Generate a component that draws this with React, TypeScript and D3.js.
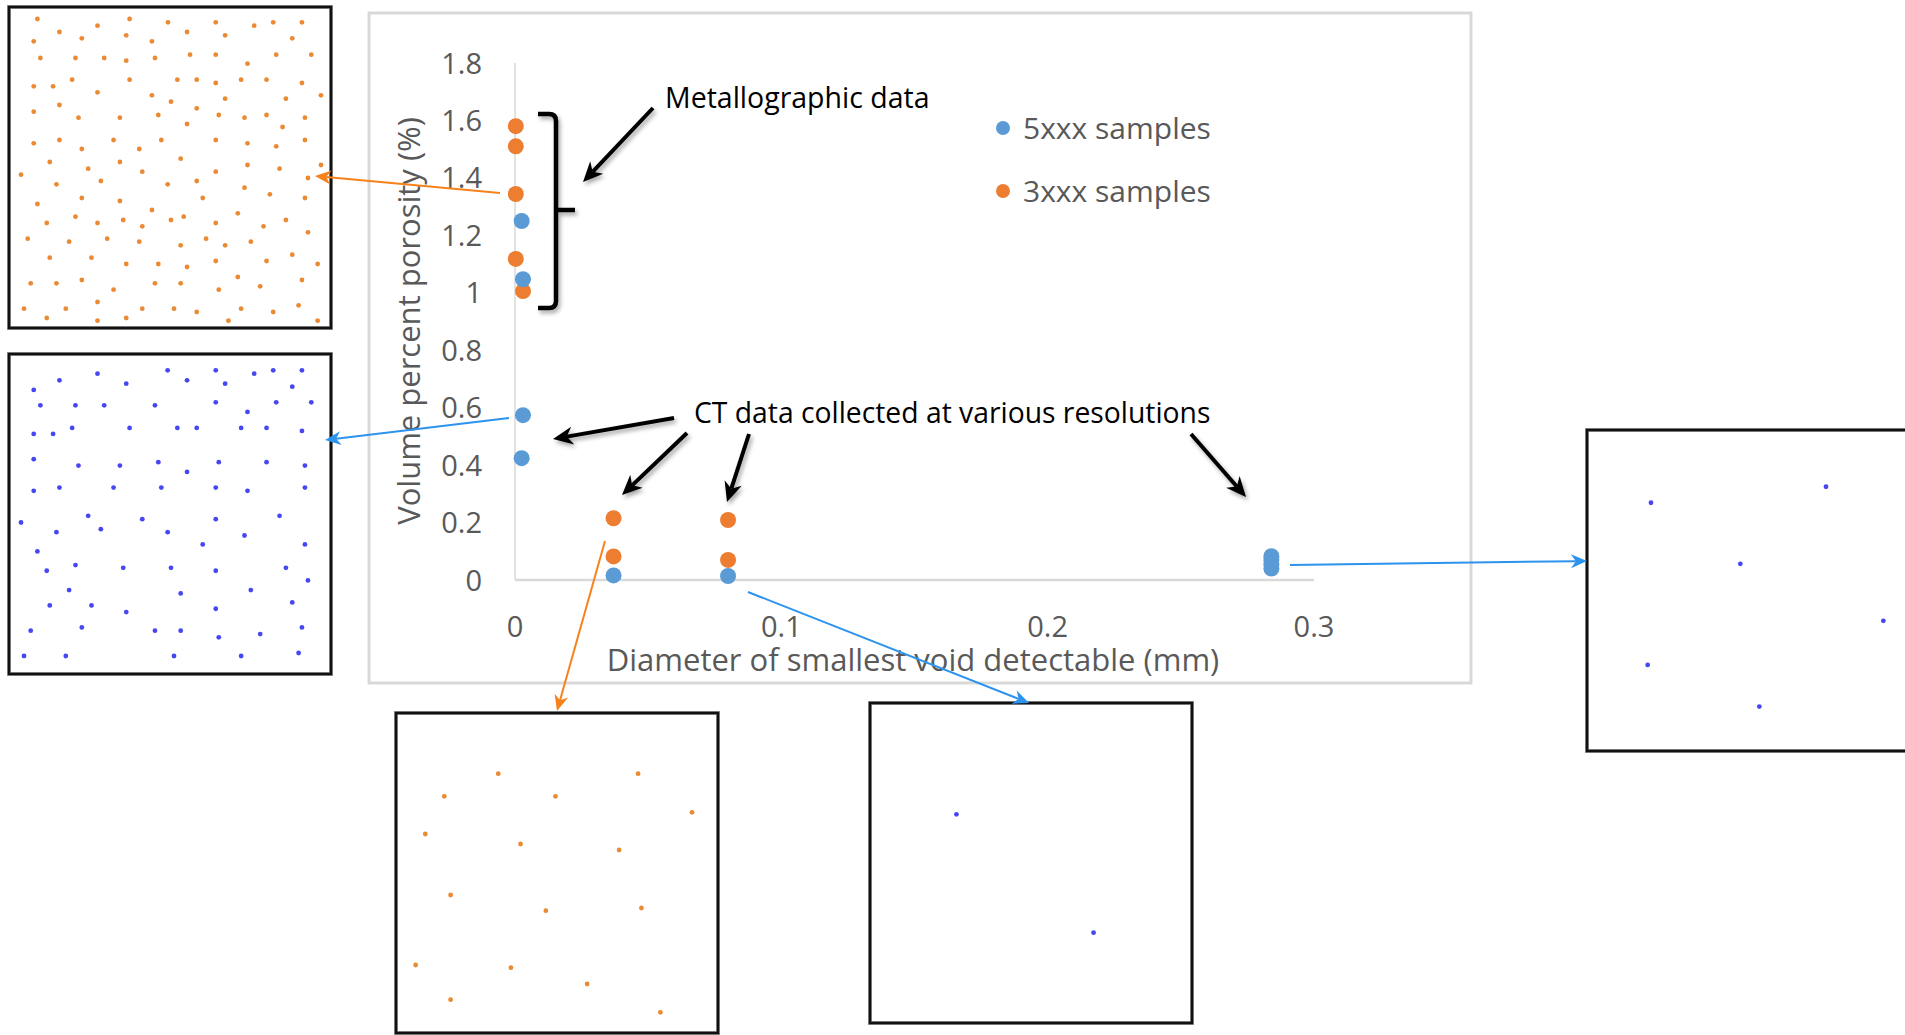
import React from "react";
import * as d3 from "d3";

// ---------- Chart data ----------
const xTicks = [0, 0.1, 0.2, 0.3];
const yTicks = [0, 0.2, 0.4, 0.6, 0.8, 1, 1.2, 1.4, 1.6, 1.8];
const xTickLabels = ["0", "0.1", "0.2", "0.3"];
const yTickLabels = ["0", "0.2", "0.4", "0.6", "0.8", "1", "1.2", "1.4", "1.6", "1.8"];

const seriesNames = ["5xxx samples", "3xxx samples"];
const seriesColors = ["#5B9BD5", "#ED7D31"];

const s5xxxX = [0.0025, 0.003, 0.003, 0.0025, 0.037, 0.08, 0.284, 0.284, 0.284, 0.284];
const s5xxxY = [1.25, 1.047, 0.574, 0.424, 0.016, 0.014, 0.04, 0.055, 0.07, 0.083];
const s3xxxX = [0.0003, 0.0003, 0.0003, 0.0003, 0.003, 0.037, 0.037, 0.08, 0.08];
const s3xxxY = [1.58, 1.51, 1.344, 1.118, 1.006, 0.215, 0.082, 0.209, 0.07];

const xTitle = "Diameter of smallest void detectable (mm)";
const yTitle = "Volume percent porosity (%)";
const note1 = "Metallographic data";
const note2 = "CT data collected at various resolutions";

// ---------- Micrograph pore data (image units of each micrograph) ----------
const pores3xxxMetallo: [number, number][] = [
  [113, 58], [389, 58], [504, 68], [647, 68], [819, 68], [905, 68], [762, 78], [293, 78],
  [179, 97], [561, 97], [675, 107], [379, 107], [246, 116], [876, 116], [102, 125], [456, 125],
  [122, 175], [227, 175], [313, 175], [379, 183], [465, 175], [570, 165], [647, 165], [828, 165], [933, 165], [742, 192],
  [217, 240], [389, 240], [532, 240], [590, 240], [723, 240], [799, 240], [102, 260], [160, 260], [647, 250], [905, 250],
  [293, 278], [456, 287], [675, 297], [857, 297], [962, 287], [513, 306], [179, 316], [590, 326], [102, 336],
  [236, 354], [360, 354], [475, 346], [656, 346], [733, 354], [799, 346], [914, 354], [561, 373], [847, 382],
  [102, 431], [179, 421], [246, 448], [341, 421], [418, 448], [484, 421], [647, 421], [742, 431], [828, 440], [914, 421],
  [150, 487], [265, 507], [360, 487], [542, 477], [427, 516], [647, 516], [742, 496], [838, 507], [962, 496],
  [64, 525], [170, 554], [303, 544], [503, 554], [590, 544], [923, 535], [733, 564],
  [246, 595], [360, 604], [608, 595], [809, 584], [914, 595], [113, 613],
  [456, 631], [227, 651], [370, 661], [513, 661], [551, 651], [713, 641],
  [141, 670], [293, 670], [427, 680], [647, 670], [857, 661], [790, 680],
  [84, 717], [208, 726], [322, 717], [418, 726], [542, 737], [618, 717], [675, 737], [752, 726], [923, 698],
  [150, 774], [275, 774], [379, 793], [475, 793], [561, 802], [647, 784], [799, 784], [876, 765], [952, 793],
  [93, 851], [170, 851], [246, 841], [341, 870], [465, 851], [542, 851], [713, 832], [656, 870], [780, 860], [905, 841],
  [293, 907], [73, 927], [198, 927], [427, 927], [522, 927], [590, 937], [723, 927], [819, 937], [895, 917],
  [141, 955], [293, 963], [379, 955], [685, 963], [952, 963],
];
const pores5xxxMetallo: [number, number][] = [
  [293, 101], [503, 91], [647, 91], [762, 101], [819, 91], [905, 91],
  [179, 121], [379, 131], [561, 121], [675, 131], [876, 140], [102, 150],
  [122, 196], [227, 196], [313, 196], [465, 196], [647, 187], [828, 187], [933, 187], [742, 216],
  [217, 264], [389, 264], [532, 264], [590, 264], [723, 264], [799, 264], [102, 282], [160, 282], [905, 273],
  [102, 358], [236, 377], [360, 377], [475, 367], [656, 367], [799, 367], [914, 377], [561, 396],
  [102, 453], [179, 443], [341, 443], [484, 443], [647, 443], [742, 453], [914, 443],
  [64, 548], [265, 528], [427, 538], [647, 538], [838, 528], [170, 577], [303, 568], [503, 577], [733, 587],
  [113, 635], [608, 614], [914, 614],
  [141, 693], [227, 676], [370, 684], [513, 684], [647, 693], [857, 684], [923, 722],
  [208, 751], [542, 761], [752, 751],
  [150, 797], [275, 797], [379, 817], [647, 807], [876, 788],
  [93, 873], [246, 863], [465, 873], [542, 873], [656, 893], [780, 883], [905, 863],
  [73, 949], [198, 949], [522, 949], [723, 949], [895, 940],
];
const pores3xxxCT: [number, number][] = [
  [355, 222], [775, 222], [193, 290], [527, 290], [937, 338], [136, 403], [422, 433], [718, 451],
  [212, 586], [498, 633], [785, 625], [107, 796], [393, 804], [622, 853], [212, 900], [842, 938],
];
const pores5xxxCTmid: [number, number][] = [[289, 372], [700, 727]];
const pores5xxxCTcoarse: [number, number][] = [
  [244, 278], [769, 230], [512, 461], [941, 632], [234, 764], [569, 889],
];

// ---------- Layout ----------
const W = 1905;
const H = 1035;
const plotLeft = 515;
const plotRight = 1314;
const plotTop = 63;
const plotBottom = 580;

const poreOrange = "#EA8A33";
const poreBlue = "#4747F2";
const leadOrange = "#F7821B";
const leadBlue = "#2C93EE";

type Inset = {
  x: number; y: number; w: number; h: number;
  dom: [number, number, number, number];
  pores: [number, number][];
  color: string;
};

const insets: Inset[] = [
  { x: 9, y: 7, w: 322, h: 321, dom: [28, 992, 22, 985], pores: pores3xxxMetallo, color: poreOrange },
  { x: 9, y: 354, w: 322, h: 320, dom: [28, 992, 42, 1003], pores: pores5xxxMetallo, color: poreBlue },
  { x: 396, y: 713, w: 322, h: 320, dom: [48, 1015, 40, 1000], pores: pores3xxxCT, color: poreOrange },
  { x: 870, y: 703, w: 322, h: 320, dom: [30, 995, 38, 998], pores: pores5xxxCTmid, color: poreBlue },
  { x: 1587, y: 430, w: 322, h: 321, dom: [52, 1018, 60, 1022], pores: pores5xxxCTcoarse, color: poreBlue },
];

const blackArrows: [number, number, number, number][] = [
  [653, 108, 583, 182],
  [674, 418, 553, 439],
  [687, 433, 622, 495],
  [749, 434, 727, 502],
  [1191, 434, 1246, 497],
];

const leaders: { pts: [number, number, number, number]; color: string }[] = [
  { pts: [500, 193, 315, 176], color: leadOrange },
  { pts: [509, 418, 325, 440], color: leadBlue },
  { pts: [605, 541, 557, 711], color: leadOrange },
  { pts: [748, 592, 1029, 703], color: leadBlue },
  { pts: [1290, 565, 1587, 561], color: leadBlue },
];

function arrowHead(x1: number, y1: number, x2: number, y2: number, len: number, half: number) {
  const a = Math.atan2(y2 - y1, x2 - x1);
  const bx = x2 - len * Math.cos(a);
  const by = y2 - len * Math.sin(a);
  const px = -Math.sin(a) * half;
  const py = Math.cos(a) * half;
  const nx = x2 - len * 0.7 * Math.cos(a);
  const ny = y2 - len * 0.7 * Math.sin(a);
  return {
    d: `M${x2},${y2} L${bx + px},${by + py} L${nx},${ny} L${bx - px},${by - py} Z`,
    sx: nx,
    sy: ny,
  };
}

export default function App() {
  const x = d3.scaleLinear().domain([0, 0.3]).range([plotLeft, plotRight]);
  const y = d3.scaleLinear().domain([0, 1.8]).range([plotBottom, plotTop]);
  const font = "'Open Sans', 'Noto Sans', sans-serif";
  const gray = "#595959";

  const pts5 = s5xxxX.map((v, i) => [v, s5xxxY[i]]);
  const pts3 = s3xxxX.map((v, i) => [v, s3xxxY[i]]);

  return (
    <svg
      width={W}
      height={H}
      style={{ position: "absolute", left: 0, top: 0, background: "#fff" }}
      fontFamily={font}
    >
      <defs>
        <filter id="shadow" x="-30%" y="-30%" width="160%" height="160%">
          <feDropShadow dx="2" dy="3" stdDeviation="2" floodColor="#000" floodOpacity="0.35" />
        </filter>
        <filter id="soft" x="-100%" y="-100%" width="300%" height="300%">
          <feGaussianBlur stdDeviation="0.6" />
        </filter>
      </defs>
      <rect x={0} y={0} width={W} height={H} fill="#fff" />

      {/* chart frame */}
      <rect x={369} y={13} width={1102} height={670} fill="#fff" stroke="#D9D9D9" strokeWidth={3} />

      {/* axes */}
      <line x1={plotLeft} x2={plotLeft} y1={y(1.8)} y2={y(0)} stroke="#D9D9D9" strokeWidth={1.5} />
      <line x1={plotLeft} x2={plotRight} y1={y(0)} y2={y(0)} stroke="#D9D9D9" strokeWidth={2.5} />

      {yTicks.map((t, i) => (
        <text key={"yt" + i} x={482} y={y(t) + 10.5} textAnchor="end" fontSize={29} fill={gray}>
          {yTickLabels[i]}
        </text>
      ))}
      {xTicks.map((t, i) => (
        <text key={"xt" + i} x={x(t)} y={637} textAnchor="middle" fontSize={29} fill={gray}>
          {xTickLabels[i]}
        </text>
      ))}
      <text x={913} y={671} textAnchor="middle" fontSize={31} fill={gray}>
        {xTitle}
      </text>
      <text transform="translate(420,321) rotate(-90)" textAnchor="middle" fontSize={31} fill={gray}>
        {yTitle}
      </text>

      {/* data points */}
      {pts3.map((p, i) => (
        <circle key={"o" + i} cx={x(p[0])} cy={y(p[1])} r={8} fill={seriesColors[1]} />
      ))}
      {pts5.map((p, i) => (
        <circle key={"b" + i} cx={x(p[0])} cy={y(p[1])} r={8} fill={seriesColors[0]} />
      ))}

      {/* legend */}
      {seriesNames.map((n, i) => (
        <g key={"lg" + i}>
          <circle cx={1003} cy={128 + i * 63} r={7} fill={seriesColors[i]} />
          <text x={1023} y={139 + i * 63} fontSize={30} fill={gray}>
            {n}
          </text>
        </g>
      ))}

      {/* insets */}
      {insets.map((ins, k) => {
        const sx = d3.scaleLinear().domain([ins.dom[0], ins.dom[1]]).range([ins.x, ins.x + ins.w]);
        const sy = d3.scaleLinear().domain([ins.dom[2], ins.dom[3]]).range([ins.y, ins.y + ins.h]);
        return (
          <g key={"in" + k}>
            <rect x={ins.x} y={ins.y} width={ins.w} height={ins.h} fill="#fff" stroke="#9a9a9a" strokeWidth={4} />
            <rect x={ins.x} y={ins.y} width={ins.w} height={ins.h} fill="none" stroke="#111" strokeWidth={2.5} />
            {ins.pores.map((p, j) => (
              <circle key={j} cx={sx(p[0])} cy={sy(p[1])} r={2.4} fill={ins.color} filter="url(#soft)" />
            ))}
          </g>
        );
      })}

      {/* colored leader lines */}
      {leaders.map((l, i) => {
        const [x1, y1, x2, y2] = l.pts;
        const h = arrowHead(x1, y1, x2, y2, 16, 7);
        return (
          <g key={"ld" + i}>
            <line x1={x1} y1={y1} x2={h.sx} y2={h.sy} stroke={l.color} strokeWidth={2} />
            <path d={h.d} fill={l.color} />
          </g>
        );
      })}

      {/* bracket */}
      <path
        d="M538,114 H549 Q556,114 556,121 V210 H575 M556,210 V301 Q556,308 549,308 H538"
        fill="none"
        stroke="#000"
        strokeWidth={4.5}
        filter="url(#shadow)"
      />

      {/* black arrows */}
      {blackArrows.map((a, i) => {
        const [x1, y1, x2, y2] = a;
        const h = arrowHead(x1, y1, x2, y2, 20, 9);
        return (
          <g key={"ba" + i} filter="url(#shadow)">
            <line x1={x1} y1={y1} x2={h.sx} y2={h.sy} stroke="#000" strokeWidth={4} />
            <path d={h.d} fill="#000" />
          </g>
        );
      })}

      {/* annotations */}
      <text x={665} y={108} fontSize={28.5} fill="#000">
        {note1}
      </text>
      <text x={694} y={423} fontSize={28.3} fill="#000">
        {note2}
      </text>
    </svg>
  );
}
